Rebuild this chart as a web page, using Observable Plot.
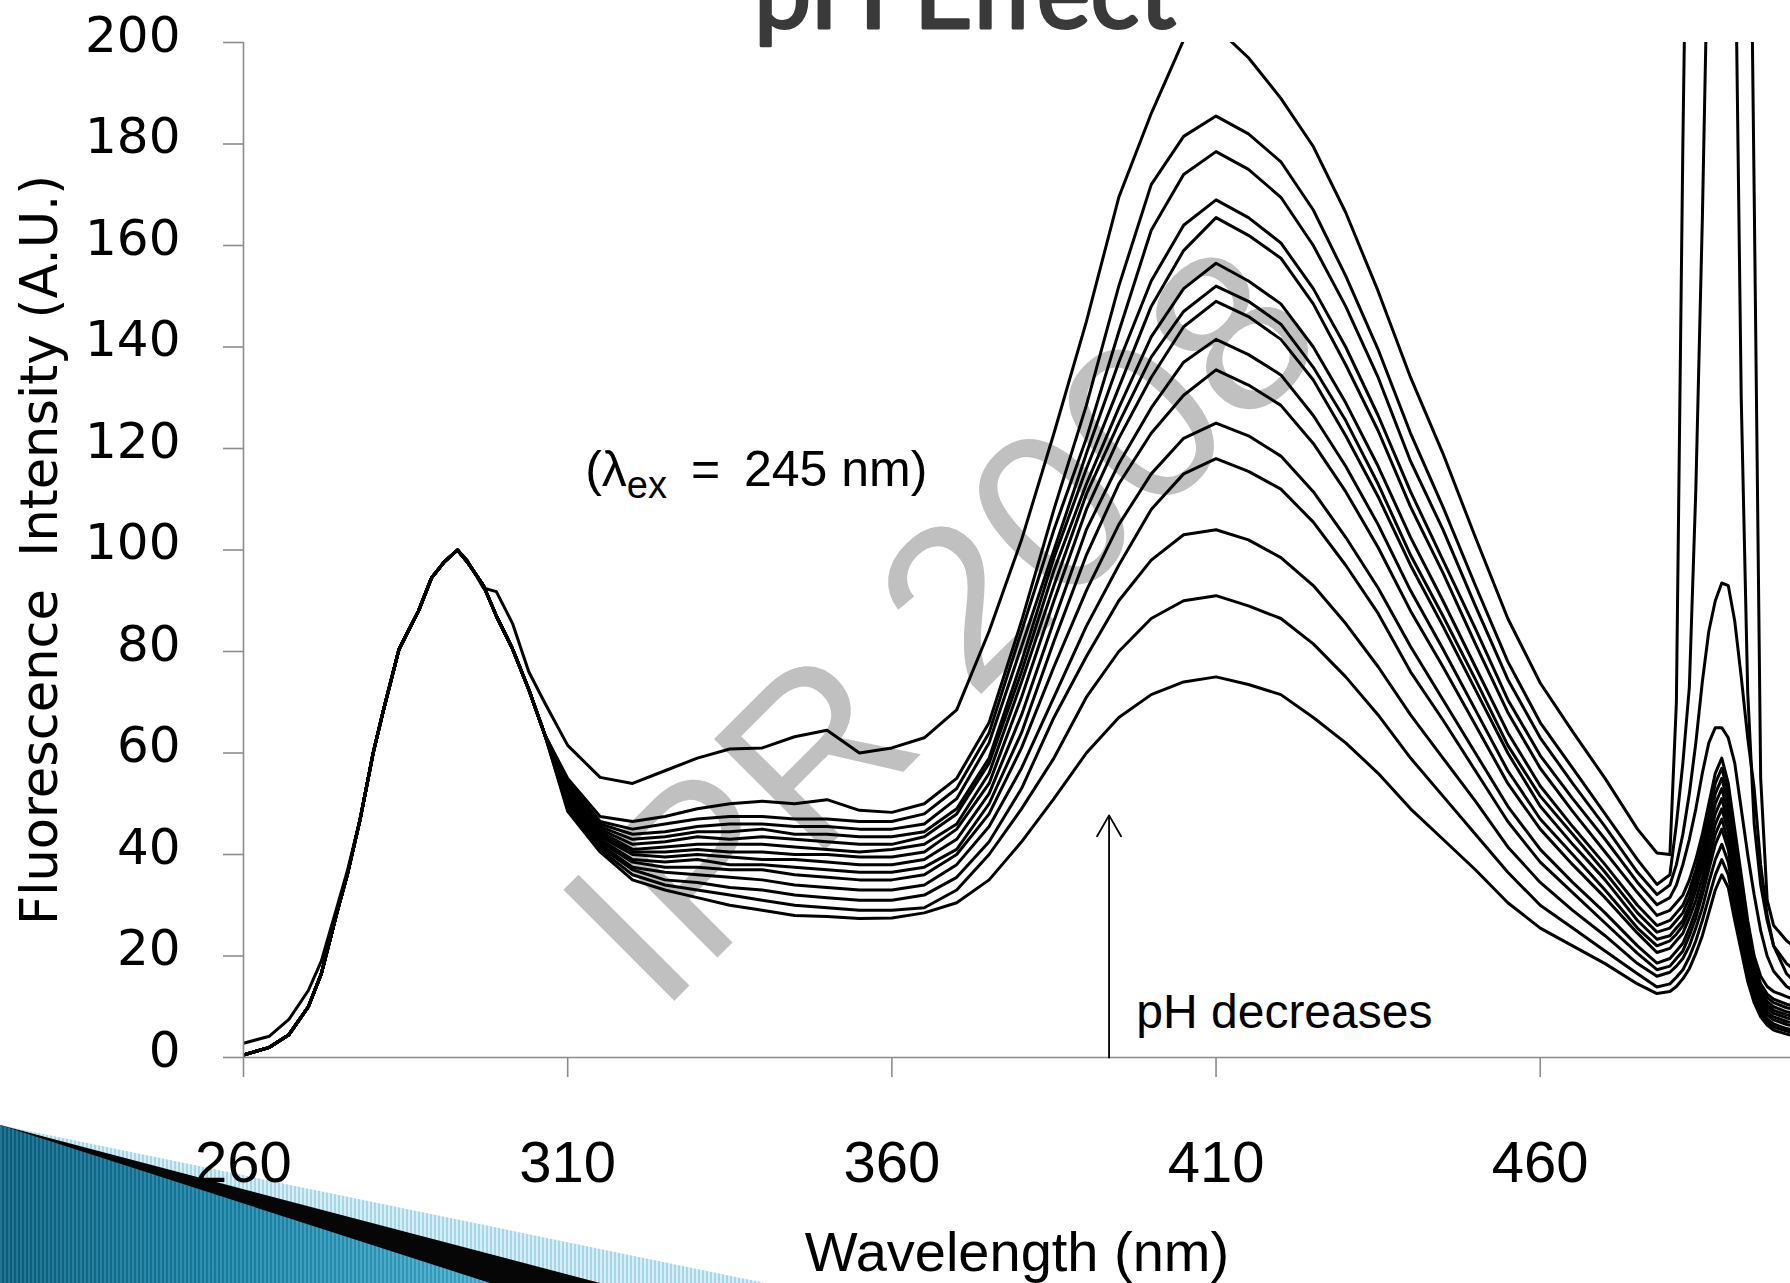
<!DOCTYPE html>
<html><head><meta charset="utf-8">
<script src="https://cdn.jsdelivr.net/npm/d3@7"></script>
<script src="https://cdn.jsdelivr.net/npm/@observablehq/plot@0.6"></script>
<style>
html,body{margin:0;padding:0;background:#fff;overflow:hidden;width:1790px;height:1283px;}
#wrap{position:relative;width:1790px;height:1283px;}
.deco{position:absolute;left:0;top:0;width:1790px;height:1283px;}
#d1{clip-path:polygon(0 1125px,765px 1283px,0 1283px);background:repeating-linear-gradient(90deg,#d9eff7 0 2px,#a6d6e8 2px 4px);}
#d2{clip-path:polygon(0 1125px,600px 1283px,0 1283px);background:#060606;}
#d3{clip-path:polygon(0 1125px,490px 1283px,0 1283px);background:repeating-linear-gradient(90deg,rgba(255,255,255,0.10) 0 2px,rgba(0,0,0,0.10) 2px 4px),linear-gradient(90deg,#0a6586 0px,#1d8bb0 250px,#48b3d5 490px);}
#chart{position:absolute;left:0;top:0;}
</style></head><body>
<div id="wrap">
  <div class="deco" id="d1"></div>
  <div class="deco" id="d2"></div>
  <div class="deco" id="d3"></div>
  <div id="chart"></div>
</div>
<script>
// ---- wavelength grids (nm) ----
const wlHead = [260, 264, 267, 270, 272, 274.5, 276, 278, 280, 281.5, 284, 287, 289, 291, 293, 294.5, 297, 299, 301.5, 304, 306.5];
const wlBody = [310, 315, 320, 325, 330, 335, 340, 345, 350, 355, 360, 365, 370, 375, 380, 385, 390, 395, 400, 405, 410, 415, 420, 425, 430, 435, 440, 445, 450, 455, 460, 465, 470, 475];
const wlScatter = [478, 480, 481, 482, 483, 484, 485, 486, 487, 488, 489, 490, 491, 492, 493, 494, 495, 496, 498, 500];

// ---- first emission band (shared by the bundle; top spectrum separate) ----
const headBundle = [0.5, 2, 4.5, 10, 16.5, 29, 36, 47, 60, 68, 80.5, 88, 94.5, 97.7, 100, 97.7, 93, 87, 80.5, 72.5, 63.5];
const headTop = [2.8, 4.2, 7.5, 13.2, 19, 30, 36.7, 47, 60, 68, 80.5, 88, 94.5, 97.7, 100, 98, 92.5, 91.8, 85.5, 76, 69.8];

// ---- spectra, 310-475 nm (ordered from highest to lowest 410 nm band) ----
const s1Body  = [61.5, 55.2, 54, 56.5, 59, 60.8, 61, 63.2, 64.5, 60, 61, 63, 68.5, 84, 102, 123, 145, 169.5, 186, 200.5, 203, 197, 189, 179.5, 166.5, 151, 134, 119, 102.5, 86.5, 73.8, 64.2, 55, 45];
const s2Body  = [55, 47.5, 46.5, 47.5, 49, 50, 50.5, 50, 50.8, 48.7, 48.3, 50, 55, 66, 86, 108, 128.5, 152, 172, 181.5, 185.5, 182, 176.5, 167, 154, 139.5, 123, 108.5, 93, 78, 66, 57, 48, 39];
const s3Body  = [54.5, 46.5, 45, 46, 47, 47.5, 47.5, 47, 47, 46.5, 46.5, 48, 53, 64, 84, 104, 122, 143, 163, 174, 178.5, 175, 169.5, 160, 148, 134, 117.5, 104, 89, 74.5, 63, 54, 45.5, 36.5];
const s4Body  = [54, 46, 44, 44.5, 45.5, 46, 46, 45.5, 45.5, 45, 45, 46, 51, 62, 81, 100, 119, 137, 153, 164, 169, 165.5, 160.5, 151.5, 140, 126.5, 111.5, 98, 84.5, 70.5, 59.5, 51, 43, 34.5];
const s5Body  = [53.5, 45.5, 43, 43.5, 44.5, 44.5, 45, 44, 44, 43.5, 43.5, 44.5, 49, 59, 78, 98.5, 116, 132, 148, 159, 165.5, 162, 157.5, 148.5, 136.5, 123.5, 108.5, 95.5, 81.5, 68, 57, 48.5, 40.5, 32.5];
const s6Body  = [53, 45, 42, 42.5, 43.5, 43, 43.5, 43, 42.5, 42, 42, 43.5, 48, 58, 76, 96, 113, 128, 142, 151.5, 156.5, 153, 148.5, 140, 129, 116.5, 102.5, 90, 77, 64, 53.5, 45.5, 38, 30];
const s7Body  = [52.5, 44.5, 41, 41.5, 42, 42, 42, 41.5, 41, 40.5, 41, 42, 46, 56, 74, 93, 111, 125, 138, 147, 152, 149, 144.5, 136, 125.5, 113, 99, 87, 74.5, 61.5, 51.5, 44, 36.5, 28.5];
const s8Body  = [52, 44, 40.5, 40.5, 41, 40.5, 40.5, 40, 40, 39.5, 39.5, 40.5, 45, 54, 71, 90, 108, 122, 134, 144, 149, 146, 141.5, 133.5, 122.5, 110.5, 97, 85, 72.5, 60, 49.5, 42, 35, 27];
const s9Body  = [51.5, 43.5, 40, 39.5, 40, 39.5, 39, 39, 38.5, 38, 38, 39, 43, 52, 67.5, 86, 104, 117, 128, 137, 141.5, 138.5, 134.5, 126.5, 116.5, 105, 92, 80.5, 68.5, 56.5, 47, 40, 33, 25.5];
const s10Body = [51, 43, 39, 38.5, 39, 38, 38, 37.5, 37, 36.5, 36.5, 37.5, 41, 50, 64, 82, 99, 113, 123, 130.5, 135.5, 132.5, 128.5, 121, 111.5, 100.5, 88, 77, 65.5, 54, 45, 38, 31.5, 24.5];
const s11Body = [50.5, 42.5, 38.5, 37.5, 37.5, 37, 37, 36, 35.5, 35, 35, 36, 40, 48, 61, 77, 92, 105, 115, 122, 125, 122.5, 118.5, 111.5, 102.5, 92.5, 81, 70.5, 60, 49.5, 41, 34.5, 28.5, 22];
const s12Body = [50, 42, 37.5, 36.5, 36, 35.5, 35, 34, 33.5, 33, 33, 34, 38, 45.5, 57, 71, 85, 97, 108, 115, 118, 115.5, 112, 105.5, 97, 87.5, 76, 66.5, 56.5, 46.5, 38.5, 32.5, 26.5, 20.5];
const s13Body = [49.5, 41.5, 37, 35, 34.5, 33.5, 33, 32, 31.5, 31, 31, 32, 35.5, 42.5, 53, 67, 79, 90, 98, 103, 104, 102, 98.5, 93, 85.5, 77, 67.5, 59, 50.5, 41.5, 34.5, 29, 24, 18.5];
const s14Body = [49, 41, 36, 34, 33, 32, 31, 30, 29.5, 29, 29, 29.5, 33, 40, 49, 59, 71, 80, 86.5, 90, 91, 89, 86.5, 81.5, 75, 67.5, 59, 51.5, 44, 36.5, 30, 25.5, 21, 16.5];
const s15Body = [48.5, 40.5, 35, 33, 31.5, 30, 29, 28, 27.8, 27.4, 27.5, 28.5, 30.5, 35, 42.5, 51, 60, 67, 71.5, 74, 75, 73.5, 71.5, 67, 62, 56, 49, 43, 37, 30.5, 25.5, 22, 18.5, 14.5];

// ---- 478-500 nm region (second-order scatter peak) ----
const s1Scatter  = [40.3, 40, 70, 180, 270, 330, 350, 360, 365, 365, 360, 345, 320, 280, 170, 55, 31, 26, 23, 21];
const s2Scatter  = [34.1, 36, 46, 58, 73, 112, 165, 230, 280, 300, 290, 230, 130, 72, 46, 34, 27, 22, 18.5, 16.5];
const s3Scatter  = [32.1, 34, 38, 44, 52, 62, 74, 84, 90, 93.5, 93, 86, 75, 63, 53, 38, 28, 22, 16.5, 14];
const s4Scatter  = [30.1, 31.5, 34, 38, 43, 49, 56, 62, 65, 65, 63, 58, 49, 40, 32, 25, 20, 17, 14, 12.5];
const s5Scatter  = [28, 29, 30.5, 32, 35, 39, 44, 50, 56, 59, 54, 45, 36, 27, 20, 16, 14, 13, 12, 11];
const s6Scatter  = [26, 27, 28.5, 30, 33, 37, 42, 48, 54, 57, 52, 43, 34, 25, 18.5, 14.5, 12.5, 11.5, 10.5, 9.8];
const s7Scatter  = [24.7, 25.5, 27, 28.5, 31.5, 35.5, 40.5, 46, 52, 55, 50, 41, 32, 23.5, 17.5, 13.5, 11.8, 10.8, 9.8, 9.2];
const s8Scatter  = [23.3, 24, 25.5, 27, 30, 34, 39, 44.5, 50, 53, 48, 39, 30.5, 22, 16.5, 12.8, 11, 10, 9, 8.4];
const s9Scatter  = [22, 23, 24.3, 26, 29, 33, 37.5, 43, 48, 51, 46, 37.5, 29, 21, 15.5, 12, 10.3, 9.3, 8.4, 7.8];
const s10Scatter = [20.7, 21.5, 23, 24.5, 27.5, 31, 35.5, 41, 46, 49, 44.5, 36, 28, 20, 14.8, 11.3, 9.7, 8.7, 7.8, 7.2];
const s11Scatter = [18.6, 19.5, 21, 22.5, 25.5, 29, 33.5, 39, 44, 47, 42.5, 34.5, 26.5, 19, 14, 10.6, 9, 8, 7.1, 6.5];
const s12Scatter = [17.3, 18, 19.5, 21, 24, 27.5, 32, 37, 42, 45, 41, 33, 25.5, 18, 13.2, 10, 8.4, 7.4, 6.5, 5.9];
const s13Scatter = [16, 16.8, 18, 19.5, 22, 25.5, 29.5, 34.5, 39, 42, 38.5, 31, 24, 17, 12.5, 9.3, 7.6, 6.6, 5.7, 5.1];
const s14Scatter = [13.9, 14.5, 15.8, 17.3, 19.8, 23, 27, 31.5, 36, 39, 36, 29, 22.5, 16, 11.6, 8.6, 7, 6, 5.2, 4.6];
const s15Scatter = [12.6, 13, 14, 15.5, 17.5, 20.5, 24, 28.5, 33, 36, 33.5, 27, 21, 15, 10.8, 8, 6.4, 5.4, 4.6, 4];

// ---- axes ----
const xTicks = [260, 310, 360, 410, 460];
const yTicks = [0, 20, 40, 60, 80, 100, 120, 140, 160, 180, 200];

// ---- annotations (data coordinates) ----
const lambdaNote = {wl: 312.7, v: 112.7, label: "(λex = 245 nm)"};
const phNote = {wl: 397.7, v: 5.9, label: "pH decreases"};
const phArrow = {wl: 393.5, from: 0, to: 47.7};
const watermark = {wl: 376, v: 74.5, label: "IPR 2008"};

const bodies = [s1Body, s2Body, s3Body, s4Body, s5Body, s6Body, s7Body, s8Body, s9Body, s10Body, s11Body, s12Body, s13Body, s14Body, s15Body];
const scatters = [s1Scatter, s2Scatter, s3Scatter, s4Scatter, s5Scatter, s6Scatter, s7Scatter, s8Scatter, s9Scatter, s10Scatter, s11Scatter, s12Scatter, s13Scatter, s14Scatter, s15Scatter];

const rows = [];
bodies.forEach((b, i) => {
  const head = i === 0 ? headTop : headBundle;
  wlHead.forEach((w, j) => rows.push({id: i, wl: w, v: head[j]}));
  wlBody.forEach((w, j) => rows.push({id: i, wl: w, v: b[j]}));
  wlScatter.forEach((w, j) => rows.push({id: i, wl: w, v: scatters[i][j]}));
});

const AX = "#8c8c8c";
const plot = Plot.plot({
  width: 1790, height: 1283,
  marginTop: 42, marginBottom: 226, marginLeft: 243, marginRight: 0,
  style: {background: "transparent", overflow: "visible"},
  x: {domain: [260, 498.6], label: null},
  y: {domain: [0, 200], label: null},
  marks: [
    Plot.text([watermark], {x: "wl", y: "v", text: "label", rotate: -45, fontSize: 228, fill: "#c0c0c0", fontFamily: "Liberation Sans", textAnchor: "middle", lineAnchor: "bottom"}),
    Plot.line(rows, {x: "wl", y: "v", z: "id", stroke: "black", strokeWidth: 3, clip: true}),
    Plot.ruleX([260], {stroke: AX, strokeWidth: 1.6}),
    Plot.ruleY([0], {stroke: AX, strokeWidth: 1.6}),
    Plot.axisY({ticks: yTicks, tickSize: 20, tickFormat: () => "", stroke: AX, strokeWidth: 1.6, label: null}),
    Plot.axisY({ticks: yTicks, tickSize: 0, tickPadding: 63, fontSize: 50, fontFamily: "DejaVu Sans", dy: -7, label: null}),
    Plot.axisX({ticks: xTicks, tickSize: 20, tickFormat: () => "", stroke: AX, strokeWidth: 1.6, label: null}),
    Plot.axisX({ticks: xTicks, tickSize: 0, tickPadding: 83, fontSize: 58, fontFamily: "Liberation Sans", label: null}),
    Plot.text(["Fluorescence\u00a0 Intensity (A.U.)"], {text: d => d, frameAnchor: "left", dx: -203, rotate: -90, fontSize: 51, fontFamily: "DejaVu Sans", textAnchor: "middle", lineAnchor: "middle"}),
    Plot.text(["Wavelength (nm)"], {text: d => d, frameAnchor: "bottom", dy: 213, lineAnchor: "bottom", fontSize: 56, fontFamily: "Liberation Sans"}),
    Plot.text(["pH Effect"], {text: d => d, frameAnchor: "top", dx: -52, dy: -15, lineAnchor: "bottom", fontSize: 102, fill: "#3a3a3a", stroke: "#3a3a3a", strokeWidth: 3, fontFamily: "Lato"}),
    Plot.arrow([phArrow], {x1: "wl", y1: "from", x2: "wl", y2: "to", stroke: "black", strokeWidth: 1.8, headLength: 20, headAngle: 60}),
    Plot.text([phNote], {x: "wl", y: "v", text: "label", textAnchor: "start", lineAnchor: "bottom", fontSize: 48, fontFamily: "Liberation Sans"}),
    Plot.text([lambdaNote], {x: "wl", y: "v", text: "label", textAnchor: "start", lineAnchor: "bottom", fontSize: 50, fontFamily: "Liberation Sans"})
  ]
});
document.getElementById("chart").appendChild(plot);

// subscript for λex
plot.querySelectorAll("text").forEach(t => {
  if (t.textContent === lambdaNote.label) {
    t.textContent = "";
    const ns = "http://www.w3.org/2000/svg";
    const a = document.createElementNS(ns, "tspan"); a.textContent = "(λ";
    const b = document.createElementNS(ns, "tspan"); b.textContent = "ex"; b.setAttribute("dy", "12"); b.setAttribute("font-size", "38");
    const c = document.createElementNS(ns, "tspan"); c.textContent = "\u00a0\u2009=\u00a0\u2009245 nm)"; c.setAttribute("dy", "-12");
    t.append(a, b, c);
  }
});
</script>
</body></html>
